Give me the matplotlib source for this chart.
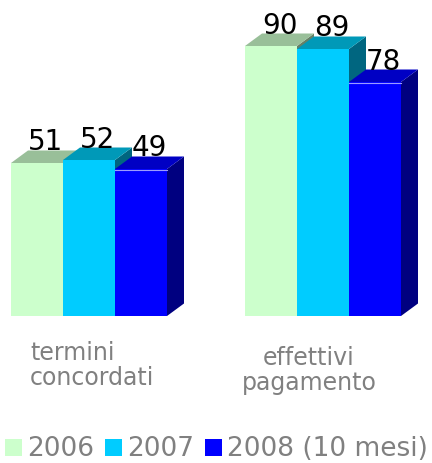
import matplotlib
matplotlib.use("Agg")
import matplotlib.pyplot as plt
from matplotlib.patches import Polygon, Patch
import matplotlib.transforms as mtransforms

categories = ["termini\nconcordati", "effettivi\npagamento"]
series = ["2006", "2007", "2008 (10 mesi)"]
values_2006 = [51, 90]
values_2007 = [52, 89]
values_2008 = [49, 78]
values = [values_2006, values_2007, values_2008]

front_colors = ["#CCFFCC", "#00CCFF", "#0000FF"]
top_colors = ["#99BF99", "#0099B8", "#0000C4"]
side_colors = ["#668066", "#006680", "#000080"]

fig = plt.figure(figsize=(4.32, 4.63), dpi=100)
ax = fig.add_axes([0, (463 - 316) / 463, 1, 316 / 463])
px_per_unit_x = 52.0
ax.set_xlim(-89 / px_per_unit_x, (432 - 89) / px_per_unit_x)
ax.set_ylim(0, 316 / 3.0)
ax.axis("off")

width = 1.0
group_gap = 4.5
dx = 17 / px_per_unit_x
dy = 12.5 / 3.0

for g, cat in enumerate(categories):
    for i, s in enumerate(series):
        v = values[i][g]
        xc = g * group_gap + (i - 1) * width
        x0 = xc - width / 2
        x1 = xc + width / 2
        # side face
        ax.add_patch(Polygon([(x1, 0), (x1 + dx, dy), (x1 + dx, v + dy), (x1, v)],
                             closed=True, facecolor=side_colors[i], edgecolor="none"))
        # top face
        ax.add_patch(Polygon([(x0, v), (x0 + dx, v + dy), (x1 + dx, v + dy), (x1, v)],
                             closed=True, facecolor=top_colors[i], edgecolor="none"))
        # front face
        ax.bar(xc, v, width=width, color=front_colors[i], edgecolor="none")
        if i == 2:
            ax.plot([x0, x1], [v - 0.4, v - 0.4], color="#9C9CFF", lw=0.8)
        ax.text(xc + dx / 2, v + dy, str(v), ha="center", va="baseline",
                fontsize=20, color="black")

# category labels
label_offsets = [0.06, 4.23 - 4.5]
label_tops = [341, 346]
label_align = ["left", "center"]
trans = mtransforms.blended_transform_factory(ax.transData, fig.transFigure)
for g, cat in enumerate(categories):
    x = g * group_gap + label_offsets[g]
    ax.text(x, 1 - label_tops[g] / 463, cat, transform=trans, ha="center", va="top",
            multialignment=label_align[g], fontsize=17, color="#808080",
            linespacing=1.05)

handles = [Patch(facecolor=c, edgecolor="none") for c in front_colors]
leg = fig.legend(handles, series, loc="lower left", bbox_to_anchor=(5 / 432, 0.5 / 463),
                 ncol=3, frameon=False, fontsize=19, handlelength=0.63,
                 handleheight=0.63, handletextpad=0.22, columnspacing=0.4,
                 borderpad=0, borderaxespad=0, labelcolor="#808080")

fig.savefig("out.png", dpi=100)
